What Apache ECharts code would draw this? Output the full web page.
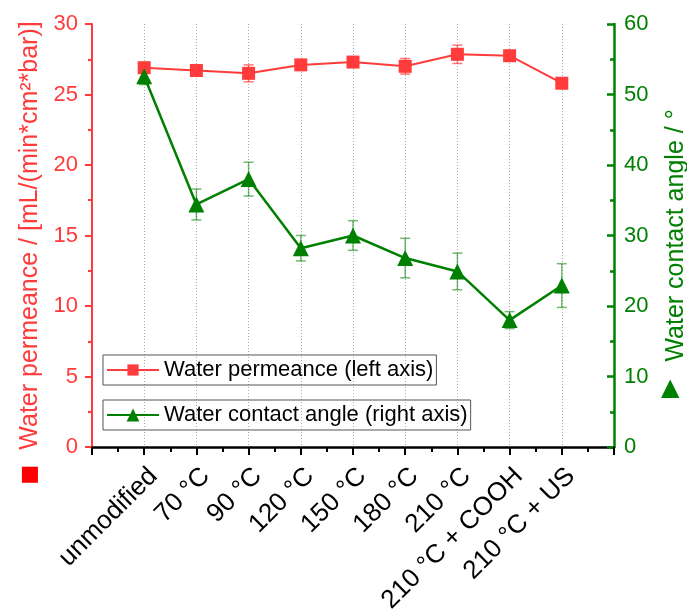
<!DOCTYPE html>
<html>
<head>
<meta charset="utf-8">
<script src="https://cdn.jsdelivr.net/npm/echarts@6/dist/echarts.min.js"></script>
<style>html,body{margin:0;padding:0;background:#fff}#c{width:687px;height:612px}</style>
</head>
<body>
<div id="c"></div>
<script>
const categories = ['unmodified', '70 °C', '90 °C', '120 °C', '150 °C', '180 °C', '210 °C', '210 °C + COOH', '210 °C + US'];
const permeance = [26.9, 26.7, 26.5, 27.1, 27.3, 27.0, 27.85, 27.75, 25.8];
const permeanceErr = [0.25, 0.2, 0.6, 0.2, 0.25, 0.55, 0.65, 0.2, 0.2];
const contactAngle = [52.6, 34.4, 38.0, 28.2, 30.0, 26.8, 24.9, 18.0, 22.9];
const contactAngleErr = [1.2, 2.2, 2.4, 1.8, 2.1, 2.8, 2.6, 1.2, 3.1];
const leftTicks = [0, 5, 10, 15, 20, 25, 30];
const rightTicks = [0, 10, 20, 30, 40, 50, 60];

const RED = '#ff3b3b';
const GREEN = '#008000';
const FONT = 'Liberation Sans, Arial, sans-serif';

const permPts = permeance.map((v, i) => [i + 1, v]);
const anglePts = contactAngle.map((v, i) => [i + 1, v]);
const permErrData = permeance.map((v, i) => [i + 1, v - permeanceErr[i], v + permeanceErr[i]]);
const angleErrData = contactAngle.map((v, i) => [i + 1, v - contactAngleErr[i], v + contactAngleErr[i]]);

function errRender(color) {
  return function (params, api) {
    const x = api.value(0);
    const lo = api.coord([x, api.value(1)]);
    const hi = api.coord([x, api.value(2)]);
    const w = 5;
    const st = { stroke: color, lineWidth: 1.5 };
    return {
      type: 'group',
      children: [
        { type: 'line', shape: { x1: lo[0], y1: lo[1], x2: hi[0], y2: hi[1] }, style: st },
        { type: 'line', shape: { x1: lo[0] - w, y1: lo[1], x2: lo[0] + w, y2: lo[1] }, style: st },
        { type: 'line', shape: { x1: hi[0] - w, y1: hi[1], x2: hi[0] + w, y2: hi[1] }, style: st }
      ]
    };
  };
}

const chart = echarts.init(document.getElementById('c'));
chart.setOption({
  animation: false,
  backgroundColor: '#fff',
  grid: { left: 92, right: 73, top: 24, bottom: 165, containLabel: false, outerBoundsMode: 'none' },
  legend: [
    {
      data: ['Water permeance (left axis)'],
      left: 103, top: 355,
      orient: 'vertical',
      itemWidth: 52, itemHeight: 14,
      padding: [4, 3, 4, 3],
      borderColor: '#555', borderWidth: 1,
      textStyle: { fontFamily: FONT, fontSize: 22, color: '#000' }
    },
    {
      data: ['Water contact angle (right axis)'],
      left: 103, top: 400,
      orient: 'vertical',
      itemWidth: 52, itemHeight: 16,
      padding: [4, 3, 4, 3],
      borderColor: '#555', borderWidth: 1,
      textStyle: { fontFamily: FONT, fontSize: 22, color: '#000' }
    }
  ],
  xAxis: {
    type: 'value',
    min: 0, max: 10, interval: 1,
    axisLine: { show: true, onZero: false, lineStyle: { color: '#000', width: 2.5 } },
    axisTick: { show: true, length: 8, lineStyle: { color: '#000', width: 2 } },
    minorTick: { show: true, splitNumber: 2, length: 5, lineStyle: { color: '#000', width: 2 } },
    splitLine: { show: true, lineStyle: { color: '#aaa', type: [1, 2], width: 1 } },
    axisLabel: {
      rotate: 45, margin: 16, verticalAlign: 'top',
      fontFamily: FONT, fontSize: 26, color: '#000',
      formatter: v => (v >= 1 && v <= categories.length && Number.isInteger(v)) ? categories[v - 1] : ''
    }
  },
  yAxis: [
    {
      type: 'value', min: 0, max: 30, interval: 5,
      position: 'left',
      name: 'Water permeance / [mL/(min*cm²*bar)]',
      nameLocation: 'middle', nameGap: 48,
      nameTextStyle: { fontFamily: FONT, fontSize: 25, color: RED },
      axisLine: { show: true, lineStyle: { color: RED, width: 2 } },
      axisTick: { show: true, length: 7, lineStyle: { color: RED, width: 2 } },
      minorTick: { show: true, splitNumber: 2, length: 4, lineStyle: { color: RED, width: 2 } },
      splitLine: { show: false },
      axisLabel: {
        margin: 14, fontFamily: FONT, fontSize: 22, color: RED,
        formatter: v => leftTicks.includes(v) ? String(v) : ''
      }
    },
    {
      type: 'value', min: 0, max: 60, interval: 10,
      position: 'right',
      name: 'Water contact angle / °',
      nameLocation: 'middle', nameGap: 50,
      nameTextStyle: { fontFamily: FONT, fontSize: 25, color: GREEN },
      axisLine: { show: true, lineStyle: { color: GREEN, width: 2.5 } },
      axisTick: { show: true, inside: true, length: 7, lineStyle: { color: GREEN, width: 2.5 } },
      minorTick: { show: true, splitNumber: 2, length: 4, lineStyle: { color: GREEN, width: 2.5 } },
      splitLine: { show: false },
      axisLabel: {
        margin: 10, fontFamily: FONT, fontSize: 22, color: GREEN,
        formatter: v => rightTicks.includes(v) ? String(v) : ''
      }
    }
  ],
  graphic: [
    { type: 'text', left: 20, top: 464, style: { text: '■', fill: '#ff0000', font: '21px DejaVu Sans' } },
    { type: 'text', left: 661, top: 377, style: { text: '▲', fill: GREEN, font: '24px DejaVu Sans' } }
  ],
  series: [
    {
      type: 'custom', name: 'permErr', yAxisIndex: 0, z: 1,
      renderItem: errRender('rgba(255,59,59,0.7)'),
      data: permErrData, silent: true
    },
    {
      type: 'custom', name: 'angleErr', yAxisIndex: 1, z: 1,
      renderItem: errRender('rgba(0,128,0,0.55)'),
      data: angleErrData, silent: true
    },
    {
      name: 'Water permeance (left axis)',
      type: 'line', yAxisIndex: 0, z: 3,
      data: permPts,
      symbol: 'rect', symbolSize: 13,
      lineStyle: { color: RED, width: 2 },
      itemStyle: { color: RED }
    },
    {
      name: 'Water contact angle (right axis)',
      type: 'line', yAxisIndex: 1, z: 3,
      data: anglePts,
      symbol: 'triangle', symbolSize: 16,
      lineStyle: { color: GREEN, width: 2.5 },
      itemStyle: { color: GREEN }
    }
  ]
});
</script>
</body>
</html>
